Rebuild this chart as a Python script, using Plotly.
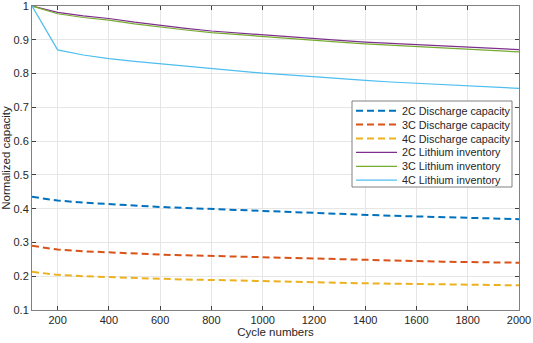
import plotly.graph_objects as go

cycles = list(range(100, 2001, 100))

dis_2c = [0.435, 0.424, 0.418, 0.413, 0.409, 0.405, 0.402, 0.399, 0.395, 0.392,
          0.389, 0.386, 0.384, 0.382, 0.379, 0.377, 0.375, 0.372, 0.370, 0.369]
dis_3c = [0.290, 0.279, 0.274, 0.270, 0.267, 0.264, 0.262, 0.260, 0.257, 0.255,
          0.253, 0.251, 0.249, 0.248, 0.246, 0.245, 0.243, 0.242, 0.241, 0.240]
dis_4c = [0.213, 0.204, 0.200, 0.197, 0.194, 0.192, 0.190, 0.189, 0.187, 0.186,
          0.184, 0.183, 0.181, 0.179, 0.178, 0.177, 0.176, 0.175, 0.174, 0.173]
li_2c = [1.0, 0.981, 0.971, 0.963, 0.952, 0.942, 0.934, 0.926, 0.920, 0.914,
         0.909, 0.904, 0.898, 0.893, 0.889, 0.885, 0.882, 0.878, 0.875, 0.871]
li_3c = [1.0, 0.977, 0.966, 0.958, 0.947, 0.937, 0.929, 0.921, 0.915, 0.909,
         0.903, 0.898, 0.893, 0.888, 0.884, 0.880, 0.876, 0.872, 0.868, 0.864]
li_4c = [1.0, 0.870, 0.855, 0.844, 0.836, 0.829, 0.821, 0.814, 0.807, 0.801,
         0.796, 0.790, 0.785, 0.780, 0.775, 0.771, 0.767, 0.763, 0.759, 0.756]

names = ["2C Discharge capacity", "3C Discharge capacity", "4C Discharge capacity",
         "2C Lithium inventory", "3C Lithium inventory", "4C Lithium inventory"]
series = [dis_2c, dis_3c, dis_4c, li_2c, li_3c, li_4c]
colors = ["#0072BD", "#D95319", "#EDB120", "#7E2F8E", "#77AC30", "#4DBEEE"]
dashed = [True, True, True, False, False, False]

x_ticks = list(range(200, 2001, 200))
y_ticks = [0.1, 0.2, 0.3, 0.4, 0.5, 0.6, 0.7, 0.8, 0.9, 1.0]
y_labels = ["0.1", "0.2", "0.3", "0.4", "0.5", "0.6", "0.7", "0.8", "0.9", "1"]

W, H = 533, 343
ML, MR, MT, MB = 32, 14, 6, 33
PW, PH = W - ML - MR, H - MT - MB


def px_x(p):
    return (p - ML) / PW


def px_y(p):
    return (H - MB - p) / PH


def line_style(d):
    return dict(width=2 if d else 1.2, dash="7px,4px" if d else "solid")


fig = go.Figure()
for name, ys, c, d in zip(names, series, colors, dashed):
    fig.add_trace(go.Scatter(
        x=cycles, y=ys, mode="lines", name=name,
        line=dict(color=c, **line_style(d)),
    ))

fam = "Liberation Sans, Arial, sans-serif"
tick_font = dict(family=fam, size=11, color="#262626")
title_font = dict(family=fam, size=11.5, color="#262626")
axis_common = dict(
    showline=True, linecolor="#808080", linewidth=1, mirror="ticks",
    ticks="inside", ticklen=4, tickcolor="#404040",
    showgrid=True, gridcolor="#e6e6e6", gridwidth=1, zeroline=False,
    tickfont=tick_font, automargin=False, ticklabeloverflow="allow",
)

# custom compact legend (MATLAB style)
shapes = [dict(type="rect", xref="paper", yref="paper",
               x0=px_x(352), x1=px_x(512), y0=px_y(187), y1=px_y(101),
               line=dict(color="#808080", width=1), fillcolor="white", layer="above")]
annotations = []
row0, row_step = 110.7, 13.9
for i, (name, c, d) in enumerate(zip(names, colors, dashed)):
    yc = row0 + i * row_step
    shapes.append(dict(type="line", xref="paper", yref="paper",
                       x0=px_x(356), x1=px_x(397), y0=px_y(yc), y1=px_y(yc),
                       line=dict(color=c, **line_style(d)), layer="above"))
    annotations.append(dict(xref="paper", yref="paper", x=px_x(400), y=px_y(yc),
                            text=name, showarrow=False, xanchor="left", yanchor="middle",
                            font=dict(family=fam, size=10.8, color="#262626")))

fig.update_layout(
    width=W, height=H,
    margin=dict(l=ML, r=MR, t=MT, b=MB),
    paper_bgcolor="white", plot_bgcolor="white",
    font=tick_font,
    showlegend=False,
    shapes=shapes,
    annotations=annotations,
    xaxis=dict(range=[100, 2000], tickvals=x_ticks,
               title=dict(text="Cycle numbers", font=title_font, standoff=2), **axis_common),
    yaxis=dict(range=[0.1, 1.0], tickvals=y_ticks, ticktext=y_labels,
               title=dict(text="Normalized capacity", font=title_font, standoff=2), **axis_common),
)

fig.write_html("out.html", config={"displayModeBar": False},
               post_script="document.body.style.margin='0';")
